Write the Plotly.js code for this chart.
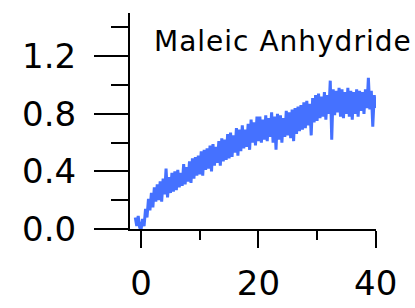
<!DOCTYPE html>
<html>
<head>
<meta charset="utf-8">
<script src="https://cdn.plot.ly/plotly-3.0.1.min.js"></script>
<style>
html,body{margin:0;padding:0;background:#fff;}
#chart{width:415px;height:308px;}
.annotation-text{letter-spacing:1px;}
</style>
</head>
<body>
<div id="chart"></div>
<script>
const seriesName = "Maleic Anhydride";
const xTickVals = [0, 20, 40];
const xTickText = ["0", "20", "40"];
const yTickVals = [0, 0.4, 0.8, 1.2];
const yTickText = ["0.0", "0.4", "0.8", "1.2"];

const timeVals = [
  -1.0, -0.75, -0.5, -0.25,
  0, 0.25, 0.5, 0.75, 1, 1.25, 1.5, 1.75, 2, 2.25, 2.5, 2.75,
  3, 3.25, 3.5, 3.75, 4, 4.25, 4.5, 4.75, 5, 5.25, 5.5, 5.75,
  6, 6.25, 6.5, 6.75, 7, 7.25, 7.5, 7.75, 8, 8.25, 8.5, 8.75,
  9, 9.25, 9.5, 9.75, 10, 10.25, 10.5, 10.75, 11, 11.25, 11.5, 11.75,
  12, 12.25, 12.5, 12.75, 13, 13.25, 13.5, 13.75, 14, 14.25, 14.5, 14.75,
  15, 15.25, 15.5, 15.75, 16, 16.25, 16.5, 16.75, 17, 17.25, 17.5, 17.75,
  18, 18.25, 18.5, 18.75, 19, 19.25, 19.5, 19.75, 20, 20.25, 20.5, 20.75,
  21, 21.25, 21.5, 21.75, 22, 22.25, 22.5, 22.75, 23, 23.25, 23.5, 23.75,
  24, 24.25, 24.5, 24.75, 25, 25.25, 25.5, 25.75, 26, 26.25, 26.5, 26.75,
  27, 27.25, 27.5, 27.75, 28, 28.25, 28.5, 28.75, 29, 29.25, 29.5, 29.75,
  30, 30.25, 30.5, 30.75, 31, 31.25, 31.5, 31.75, 32, 32.25, 32.5, 32.75,
  33, 33.25, 33.5, 33.75, 34, 34.25, 34.5, 34.75, 35, 35.25, 35.5, 35.75,
  36, 36.25, 36.5, 36.75, 37, 37.25, 37.5, 37.75, 38, 38.25, 38.5, 38.75,
  39, 39.25, 39.5, 39.75, 40
];
const signalVals = [
  0.08, 0.02, 0.09, 0.01,
  0.00, 0.07, 0.02, 0.14, 0.08, 0.21, 0.13, 0.25, 0.15, 0.29, 0.19, 0.31,
  0.20, 0.33, 0.19, 0.35, 0.24, 0.42, 0.22, 0.36, 0.25, 0.39, 0.26, 0.40,
  0.27, 0.41, 0.29, 0.39, 0.30, 0.45, 0.31, 0.43, 0.33, 0.47, 0.32, 0.49,
  0.35, 0.50, 0.37, 0.51, 0.38, 0.54, 0.37, 0.55, 0.41, 0.56, 0.42, 0.58,
  0.40, 0.59, 0.44, 0.57, 0.46, 0.61, 0.44, 0.63, 0.47, 0.62, 0.48, 0.66,
  0.49, 0.67, 0.50, 0.65, 0.53, 0.70, 0.51, 0.69, 0.54, 0.72, 0.56, 0.69,
  0.57, 0.73, 0.55, 0.76, 0.60, 0.74, 0.58, 0.78, 0.61, 0.78, 0.60, 0.76,
  0.62, 0.79, 0.61, 0.77, 0.64, 0.81, 0.60, 0.78, 0.55, 0.80, 0.62, 0.79,
  0.60, 0.77, 0.64, 0.82, 0.65, 0.81, 0.63, 0.83, 0.61, 0.84, 0.66, 0.85,
  0.68, 0.86, 0.69, 0.88, 0.70, 0.89, 0.72, 0.87, 0.65, 0.91, 0.74, 0.93,
  0.75, 0.94, 0.77, 0.92, 0.78, 0.95, 0.76, 0.93, 0.80, 1.03, 0.62, 0.97,
  0.79, 0.96, 0.81, 0.98, 0.78, 0.97, 0.77, 0.95, 0.80, 0.98, 0.78, 0.96,
  0.76, 0.95, 0.80, 0.97, 0.78, 0.96, 0.82, 0.95, 0.80, 0.97, 0.84, 1.05,
  0.83, 0.96, 0.71, 0.93, 0.84
];

const font = {family: "DejaVu Sans, Verdana, sans-serif", color: "#000"};

const traces = [{
  x: timeVals,
  y: signalVals,
  type: "scatter",
  mode: "lines",
  line: {color: "#4571ff", width: 3},
  hoverinfo: "skip",
  showlegend: false
}];

const layout = {
  width: 415,
  height: 308,
  margin: {l: 130, r: 39, t: 13, b: 79, pad: 0},
  paper_bgcolor: "#fff",
  plot_bgcolor: "#fff",
  showlegend: false,
  font: Object.assign({size: 34}, font),
  xaxis: {
    range: [-1.9, 40.05],
    tickvals: xTickVals,
    ticktext: xTickText,
    ticks: "outside",
    ticklen: 17,
    tickwidth: 2,
    tickcolor: "#000",
    showline: true,
    linecolor: "#000",
    linewidth: 2,
    showgrid: false,
    zeroline: false,
    ticklabelstandoff: 6,
    tickfont: Object.assign({size: 34}, font),
    minor: {dtick: 10, tick0: 0, ticks: "outside", ticklen: 9, tickwidth: 2, tickcolor: "#000", showgrid: false},
    fixedrange: true
  },
  xaxis2: {
    overlaying: "x",
    anchor: "y",
    side: "bottom",
    range: [-1.9, 40.05],
    tickvals: xTickVals,
    ticks: "inside",
    ticklen: 17,
    tickwidth: 2,
    tickcolor: "#000",
    showticklabels: false,
    showline: false,
    showgrid: false,
    zeroline: false,
    minor: {dtick: 10, tick0: 0, ticks: "inside", ticklen: 9, tickwidth: 2, tickcolor: "#000", showgrid: false},
    fixedrange: true
  },
  yaxis: {
    range: [0, 1.5],
    tickvals: yTickVals,
    ticktext: yTickText,
    ticks: "outside",
    ticklen: 34,
    tickwidth: 2,
    tickcolor: "#000",
    showline: true,
    linecolor: "#000",
    linewidth: 2,
    showgrid: false,
    zeroline: false,
    ticklabelstandoff: 11,
    tickfont: Object.assign({size: 34}, font),
    minor: {dtick: 0.2, tick0: 0, ticks: "outside", ticklen: 17, tickwidth: 2, tickcolor: "#000", showgrid: false},
    fixedrange: true
  },
  annotations: [{
    text: seriesName,
    xref: "paper",
    yref: "paper",
    x: 0.089,
    y: 0.955,
    xanchor: "left",
    yanchor: "top",
    showarrow: false,
    font: Object.assign({size: 28}, font)
  }]
};

Plotly.newPlot("chart", traces, layout, {staticPlot: true, displayModeBar: false});
</script>
</body>
</html>
